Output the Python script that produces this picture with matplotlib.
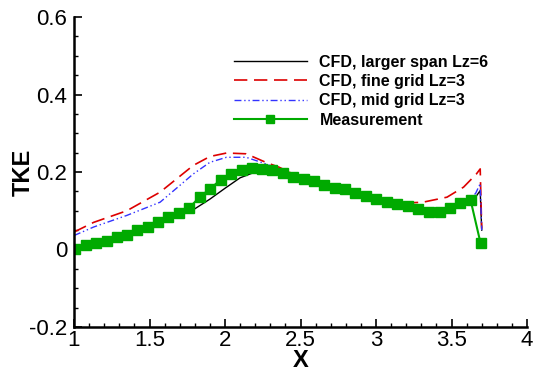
import matplotlib
matplotlib.use("Agg")
import matplotlib.pyplot as plt
import numpy as np
from matplotlib.ticker import MultipleLocator

plt.rcParams['font.family'] = ['Liberation Sans', 'DejaVu Sans']

# CFD, larger span Lz=6
x_black = [1.0, 1.1, 1.2, 1.3, 1.4, 1.5, 1.6, 1.7, 1.8, 1.9, 2.0, 2.1, 2.2, 2.3, 2.4, 2.5,
           2.6, 2.7, 2.8, 2.9, 3.0, 3.1, 3.2, 3.3, 3.4, 3.5, 3.6, 3.65, 3.69, 3.70]
y_black = [0.005, 0.015, 0.025, 0.035, 0.047, 0.058, 0.072, 0.087, 0.105, 0.13, 0.158, 0.185,
           0.2, 0.205, 0.198, 0.185, 0.175, 0.163, 0.153, 0.143, 0.133, 0.124, 0.116, 0.108,
           0.104, 0.108, 0.118, 0.13, 0.152, 0.05]

# CFD, fine grid Lz=3
x_red = [1.0, 1.13, 1.35, 1.57, 1.79, 1.9, 2.01, 2.14, 2.27, 2.36, 2.45, 2.6, 2.7, 2.8, 2.9,
         3.0, 3.1, 3.2, 3.31, 3.47, 3.58, 3.665, 3.69, 3.70]
y_red = [0.045, 0.07, 0.1, 0.148, 0.217, 0.24, 0.249, 0.247, 0.225, 0.212, 0.195, 0.176,
         0.164, 0.154, 0.144, 0.134, 0.126, 0.12, 0.122, 0.135, 0.161, 0.195, 0.208, 0.054]

# CFD, mid grid Lz=3
x_blue = [1.0, 1.13, 1.35, 1.57, 1.79, 1.9, 2.01, 2.14, 2.27, 2.36, 2.45, 2.6, 2.7, 2.8, 2.9,
          3.0, 3.1, 3.2, 3.3, 3.4, 3.5, 3.6, 3.66, 3.69, 3.70]
y_blue = [0.036, 0.058, 0.088, 0.122, 0.195, 0.225, 0.238, 0.238, 0.221, 0.207, 0.193, 0.175,
          0.163, 0.153, 0.143, 0.133, 0.124, 0.116, 0.108, 0.104, 0.108, 0.122, 0.145, 0.17, 0.05]

# Measurement
x_meas = [1.007, 1.077, 1.143, 1.216, 1.283, 1.353, 1.42, 1.488, 1.558, 1.624, 1.697, 1.764,
          1.834, 1.903, 1.971, 2.042, 2.11, 2.177, 2.247, 2.313, 2.386, 2.452, 2.525, 2.591,
          2.658, 2.731, 2.797, 2.863, 2.936, 3.003, 3.076, 3.142, 3.215, 3.281, 3.348, 3.421,
          3.487, 3.553, 3.626, 3.692]
y_meas = [0.0, 0.012, 0.017, 0.023, 0.031, 0.038, 0.051, 0.059, 0.072, 0.083, 0.095, 0.108,
          0.136, 0.157, 0.18, 0.196, 0.206, 0.211, 0.208, 0.206, 0.198, 0.188, 0.182, 0.177,
          0.167, 0.159, 0.156, 0.146, 0.139, 0.131, 0.123, 0.118, 0.113, 0.105, 0.097, 0.097,
          0.108, 0.121, 0.128, 0.017]

labels = ["CFD, larger span Lz=6", "CFD, fine grid Lz=3", "CFD, mid grid Lz=3", "Measurement"]
xtick_vals = [1, 1.5, 2, 2.5, 3, 3.5, 4]
xtick_labels = ['1', '1.5', '2', '2.5', '3', '3.5', '4']
ytick_vals = [-0.2, 0, 0.2, 0.4, 0.6]
ytick_labels = ['-0.2', '0', '0.2', '0.4', '0.6']

fig = plt.figure(figsize=(5.37, 3.74), dpi=100)
ax = fig.add_axes([0.1378, 0.1257, 0.8436, 0.8288])

ax.plot(x_black, y_black, color='black', lw=1.0, label=labels[0])
ax.plot(x_red, y_red, color='#dd0000', lw=1.2, dashes=(8, 4), label=labels[1])
ax.plot(x_blue, y_blue, color='#3333ff', lw=1.0, dashes=(5, 2, 1, 2, 1, 2), label=labels[2])
ax.plot(x_meas, y_meas, color='#00aa00', lw=1.5, marker='s', markersize=6.5,
        markeredgecolor='#00aa00', markerfacecolor='#00aa00', label=labels[3])

ax.set_xlim(1, 4)
ax.set_ylim(-0.2, 0.6)
ax.xaxis.set_minor_locator(MultipleLocator(0.1))
ax.yaxis.set_minor_locator(MultipleLocator(0.05))
ax.set_xticks(xtick_vals)
ax.set_xticklabels(xtick_labels)
ax.set_yticks(ytick_vals)
ax.set_yticklabels(ytick_labels)

for s in ['top', 'right']:
    ax.spines[s].set_visible(False)
for s in ['left', 'bottom']:
    ax.spines[s].set_linewidth(1.8)

ax.tick_params(which='major', direction='in', length=6, width=1.2, labelsize=16)
ax.tick_params(axis='x', which='major', pad=2)
ax.tick_params(axis='y', which='major', pad=5)
ax.tick_params(which='minor', direction='in', length=3, width=1.0)

ax.set_xlabel('X', fontsize=17, fontweight='bold', labelpad=-1)
ax.set_ylabel('TKE', fontsize=17, fontweight='bold', labelpad=-4)

leg = ax.legend(loc='upper left', bbox_to_anchor=(0.321, 0.925), frameon=False,
                prop={'size': 11.5, 'weight': 'bold'}, handlelength=4.56, handletextpad=0.8,
                labelspacing=0.27, markerscale=0.9)
for h in leg.legend_handles:
    if hasattr(h, 'set_markevery'):
        h.set_markevery([1])

fig.savefig('out.png', dpi=100)
